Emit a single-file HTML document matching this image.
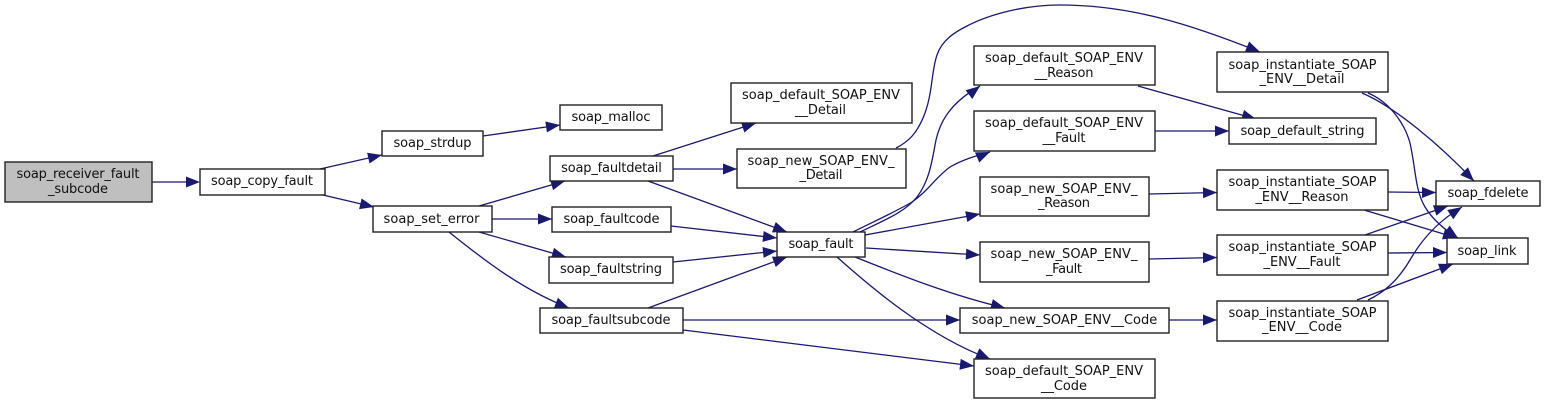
<!DOCTYPE html>
<html><head><meta charset="utf-8"><style>
html,body{margin:0;padding:0;background:#fff}
svg{display:block}
text{font-family:"DejaVu Sans",sans-serif;font-size:13px;fill:#111;text-anchor:middle}
.n{fill:#fff;stroke:#222;stroke-width:1.4}
.e{fill:none;stroke:#191970;stroke-width:1.3}
.h polygon{fill:#191970}
</style></head><body>
<svg width="1545" height="405" viewBox="0 0 1545 405" xmlns="http://www.w3.org/2000/svg">
<g>
<path class="e" d="M152,182 L195,182"/>
<path class="e" d="M320,169 L382,155"/>
<path class="e" d="M323,195 L374,207"/>
<path class="e" d="M483,136 L560,125"/>
<path class="e" d="M479,206 L565,181"/>
<path class="e" d="M492,219 L552,219"/>
<path class="e" d="M479,232 L566,257"/>
<path class="e" d="M449,232 C478,255 518,288 569,308"/>
<path class="e" d="M653,156 L756,123"/>
<path class="e" d="M673,169 L737,169"/>
<path class="e" d="M648,181 L787,232"/>
<path class="e" d="M671,226 L777,238"/>
<path class="e" d="M673,262 L777,251"/>
<path class="e" d="M648,308 L787,257"/>
<path class="e" d="M683,320 L960,320"/>
<path class="e" d="M683,330 L974,366"/>
<path class="e" d="M860,232 C885,220 905,212 917,197 C930,180 932,160 936,140 C940,122 950,103 980,86"/>
<path class="e" d="M853,232 C875,221 895,212 912,202 C928,191 935,178 950,167 C962,160 975,156 990,152"/>
<path class="e" d="M865,235 L980,214"/>
<path class="e" d="M866,248 L980,255"/>
<path class="e" d="M855,257 C900,275 950,295 1005,308"/>
<path class="e" d="M837,257 C865,282 925,335 990,359"/>
<path class="e" d="M896,148 C910,141 917,132 923,118 C933,95 931,72 937,55 C942,40 955,32 967,26 C990,14 1025,5 1060,5 C1130,5 1190,24 1260,52"/>
<path class="e" d="M1138,86 L1256,119"/>
<path class="e" d="M1155,131 L1229,131"/>
<path class="e" d="M1149,194 L1217,192.500"/>
<path class="e" d="M1149,259 L1217,257.500"/>
<path class="e" d="M1169,320 L1217,320"/>
<path class="e" d="M1362,93 C1395,107 1440,145 1474,181"/>
<path class="e" d="M1368,93 C1385,100 1403,118 1410,143 C1416,170 1415,190 1425,207 C1433,220 1445,230 1458,238"/>
<path class="e" d="M1388,192 L1436,192.500"/>
<path class="e" d="M1364,210 L1457,238"/>
<path class="e" d="M1365,235 L1448,206"/>
<path class="e" d="M1388,253 L1447,252.500"/>
<path class="e" d="M1368,300 C1385,292 1398,280 1410,260 C1423,237 1440,220 1462,207"/>
<path class="e" d="M1357,300 L1453,264"/>
</g>
<g class="h">
<polygon points="0,0 -14,-5.500 -14,5.500" transform="translate(200,182)"/>
<polygon points="0,0 -14,-5.500 -14,5.500" transform="translate(382,155) rotate(-12.700)"/>
<polygon points="0,0 -14,-5.500 -14,5.500" transform="translate(374,207) rotate(13.200)"/>
<polygon points="0,0 -14,-5.500 -14,5.500" transform="translate(560,125) rotate(-8.100)"/>
<polygon points="0,0 -14,-5.500 -14,5.500" transform="translate(565,181) rotate(-16.200)"/>
<polygon points="0,0 -14,-5.500 -14,5.500" transform="translate(552,219)"/>
<polygon points="0,0 -14,-5.500 -14,5.500" transform="translate(566,257) rotate(16)"/>
<polygon points="0,0 -14,-5.500 -14,5.500" transform="translate(569,308) rotate(21.400)"/>
<polygon points="0,0 -14,-5.500 -14,5.500" transform="translate(756,123) rotate(-17.800)"/>
<polygon points="0,0 -14,-5.500 -14,5.500" transform="translate(737,169)"/>
<polygon points="0,0 -14,-5.500 -14,5.500" transform="translate(787,232) rotate(20.100)"/>
<polygon points="0,0 -14,-5.500 -14,5.500" transform="translate(777,238) rotate(6.500)"/>
<polygon points="0,0 -14,-5.500 -14,5.500" transform="translate(777,251) rotate(-6)"/>
<polygon points="0,0 -14,-5.500 -14,5.500" transform="translate(787,257) rotate(-20.100)"/>
<polygon points="0,0 -14,-5.500 -14,5.500" transform="translate(960,320)"/>
<polygon points="0,0 -14,-5.500 -14,5.500" transform="translate(974,366) rotate(7)"/>
<polygon points="0,0 -14,-5.500 -14,5.500" transform="translate(980,86) rotate(-38)"/>
<polygon points="0,0 -14,-5.500 -14,5.500" transform="translate(990,152) rotate(-23)"/>
<polygon points="0,0 -14,-5.500 -14,5.500" transform="translate(980,214) rotate(-10.900)"/>
<polygon points="0,0 -14,-5.500 -14,5.500" transform="translate(980,255) rotate(3.500)"/>
<polygon points="0,0 -14,-5.500 -14,5.500" transform="translate(1005,308) rotate(15)"/>
<polygon points="0,0 -14,-5.500 -14,5.500" transform="translate(990,359) rotate(24)"/>
<polygon points="0,0 -14,-5.500 -14,5.500" transform="translate(1260,52) rotate(22.500)"/>
<polygon points="0,0 -14,-5.500 -14,5.500" transform="translate(1256,119) rotate(15.600)"/>
<polygon points="0,0 -14,-5.500 -14,5.500" transform="translate(1229,131)"/>
<polygon points="0,0 -14,-5.500 -14,5.500" transform="translate(1217,192.500) rotate(-1)"/>
<polygon points="0,0 -14,-5.500 -14,5.500" transform="translate(1217,257.500) rotate(-1)"/>
<polygon points="0,0 -14,-5.500 -14,5.500" transform="translate(1217,320)"/>
<polygon points="0,0 -14,-5.500 -14,5.500" transform="translate(1474,181) rotate(45)"/>
<polygon points="0,0 -14,-5.500 -14,5.500" transform="translate(1458,238) rotate(35)"/>
<polygon points="0,0 -14,-5.500 -14,5.500" transform="translate(1436,192.500)"/>
<polygon points="0,0 -14,-5.500 -14,5.500" transform="translate(1457,238) rotate(16.400)"/>
<polygon points="0,0 -14,-5.500 -14,5.500" transform="translate(1448,206) rotate(-18.400)"/>
<polygon points="0,0 -14,-5.500 -14,5.500" transform="translate(1447,252.500)"/>
<polygon points="0,0 -14,-5.500 -14,5.500" transform="translate(1462,207) rotate(-33)"/>
<polygon points="0,0 -14,-5.500 -14,5.500" transform="translate(1453,264) rotate(-20.600)"/>
</g>
<g>
<rect x="5" y="162" width="147" height="40" fill="#bfbfbf" stroke="#222" stroke-width="1.4"/>
<text x="78" y="178" textLength="123">soap_receiver_fault</text><text x="78" y="193" textLength="60">_subcode</text>
<rect class="n" x="200" y="169" width="125" height="26"/><text x="262" y="185" textLength="102">soap_copy_fault</text>
<rect class="n" x="382" y="131" width="101" height="25"/><text x="432.500" y="147" textLength="78">soap_strdup</text>
<rect class="n" x="373" y="206" width="119" height="26"/><text x="431.500" y="223" textLength="96">soap_set_error</text>
<rect class="n" x="560" y="105" width="102" height="25"/><text x="611" y="121" textLength="79">soap_malloc</text>
<rect class="n" x="550" y="156" width="123" height="25"/><text x="611.500" y="172" textLength="100.700">soap_faultdetail</text>
<rect class="n" x="552" y="207" width="119" height="25"/><text x="611.500" y="223" textLength="96">soap_faultcode</text>
<rect class="n" x="549" y="257" width="124" height="26"/><text x="611" y="273" textLength="102">soap_faultstring</text>
<rect class="n" x="540" y="308" width="143" height="25"/><text x="611" y="324" textLength="119">soap_faultsubcode</text>
<rect class="n" x="731" y="83" width="181" height="40"/><text x="821" y="99" textLength="158">soap_default_SOAP_ENV</text><text x="820.500" y="114" textLength="51">__Detail</text>
<rect class="n" x="737" y="149" width="169" height="39"/><text x="821" y="165" textLength="147">soap_new_SOAP_ENV_</text><text x="821" y="179" textLength="43">_Detail</text>
<rect class="n" x="777" y="232" width="88" height="25"/><text x="821" y="248" textLength="65">soap_fault</text>
<rect class="n" x="974" y="46" width="181" height="39"/><text x="1064" y="62" textLength="158">soap_default_SOAP_ENV</text><text x="1064" y="77" textLength="59">__Reason</text>
<rect class="n" x="974" y="111" width="181" height="40"/><text x="1064" y="127" textLength="158">soap_default_SOAP_ENV</text><text x="1064" y="142" textLength="43">__Fault</text>
<rect class="n" x="980" y="177" width="169" height="39"/><text x="1064" y="193" textLength="147">soap_new_SOAP_ENV_</text><text x="1064" y="207" textLength="52">_Reason</text>
<rect class="n" x="980" y="242" width="169" height="40"/><text x="1064" y="258" textLength="147">soap_new_SOAP_ENV_</text><text x="1064" y="273" textLength="36">_Fault</text>
<rect class="n" x="960" y="308" width="209" height="25"/><text x="1064.500" y="324" textLength="185.500">soap_new_SOAP_ENV__Code</text>
<rect class="n" x="974" y="359" width="181" height="39"/><text x="1064" y="375" textLength="158">soap_default_SOAP_ENV</text><text x="1064" y="390" textLength="46">__Code</text>
<rect class="n" x="1217" y="52" width="171" height="40"/><text x="1302.500" y="69" textLength="148">soap_instantiate_SOAP</text><text x="1302" y="83" textLength="85">_ENV__Detail</text>
<rect class="n" x="1229" y="118" width="147" height="26"/><text x="1302.500" y="135" textLength="124">soap_default_string</text>
<rect class="n" x="1217" y="170" width="171" height="40"/><text x="1302.500" y="186" textLength="148">soap_instantiate_SOAP</text><text x="1302" y="201" textLength="93">_ENV__Reason</text>
<rect class="n" x="1217" y="235" width="171" height="40"/><text x="1302.500" y="251" textLength="148">soap_instantiate_SOAP</text><text x="1302" y="266" textLength="77">_ENV__Fault</text>
<rect class="n" x="1217" y="301" width="171" height="40"/><text x="1302.500" y="317" textLength="148">soap_instantiate_SOAP</text><text x="1302" y="331" textLength="80">_ENV__Code</text>
<rect class="n" x="1436" y="181" width="104" height="25"/><text x="1488" y="197" textLength="81">soap_fdelete</text>
<rect class="n" x="1447" y="238" width="81" height="26"/><text x="1487" y="255" textLength="59">soap_link</text>
</g>
</svg>
</body></html>
